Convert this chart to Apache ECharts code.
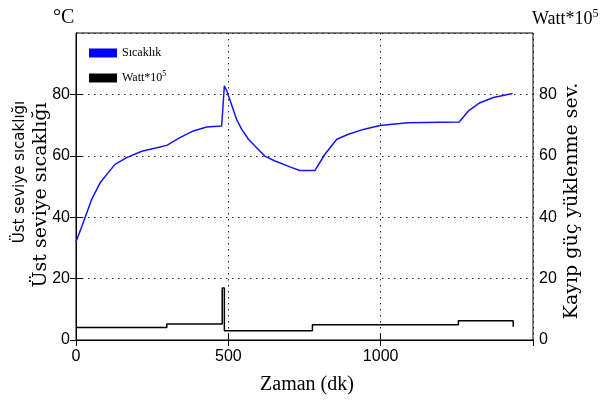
<!DOCTYPE html>
<html>
<head>
<meta charset="utf-8">
<script src="https://cdn.jsdelivr.net/npm/echarts@6/dist/echarts.min.js"></script>
<style>
  html, body { margin: 0; padding: 0; background: #fff; }
  #chart { width: 605px; height: 400px; }
</style>
</head>
<body>
<div id="chart"></div>
<script>
// Sicaklik (°C) okunan noktalar
const tempTime = [0, 19, 51, 79, 128, 166, 216, 265, 298, 341, 385, 429, 478, 481, 487, 495, 527, 544, 566, 604, 620, 653, 702, 735, 784, 817, 856, 894, 943, 998, 1063, 1091, 1258, 1288, 1326, 1370, 1433];
const tempVal  = [32, 37, 45.7, 51.2, 57.2, 59.4, 61.5, 62.6, 63.4, 65.9, 68.1, 69.4, 69.7, 74, 82.8, 81.1, 71.9, 68.6, 65.4, 61.5, 59.9, 58.3, 56.4, 55.2, 55.2, 60.5, 65.4, 67, 68.6, 69.9, 70.5, 70.8, 71.0, 74.6, 77.3, 79, 80.3];

// Watt*10^5 basamaklari
const wattTime = [0, 298, 480, 487, 776, 1255, 1435, 1435];
const wattVal  = [4.1, 5.2, 16.9, 3.0, 5.0, 6.3, 6.3, 4.3];

const xTicks = { min: 0, max: 1500, interval: 500 };
const yTicks = { min: 0, max: 100, interval: 20 };

const labelFont = "'Liberation Sans', sans-serif";
const serifFont = "'Liberation Serif', serif";

let myChart = echarts.init(document.getElementById('chart'));
let dotted = { color: '#222', width: 1, type: [1.5, 4.5] };
let tickLabel = { fontFamily: labelFont, fontSize: 16, color: '#000', formatter: v => String(v) };

let option = {
    animation: false,
    grid: { left: 76, right: 72, top: 33, bottom: 60, show: true, borderColor: '#000', borderWidth: 1, backgroundColor: 'transparent' },
    legend: {
        orient: 'vertical',
        left: 84, top: 42,
        itemWidth: 28, itemHeight: 9, itemGap: 11,
        icon: 'rect',
        textStyle: {
            fontFamily: serifFont, fontSize: 12, color: '#000',
            rich: { sup: { fontFamily: serifFont, fontSize: 8, color: '#000', verticalAlign: 'top', padding: [0, 0, 8, 0] } }
        },
        formatter: function (name) {
            return name === 'Watt' ? 'Watt*10{sup|5}' : name;
        },
        data: ['Sıcaklık', 'Watt']
    },
    xAxis: [{
        type: 'value', position: 'bottom',
        min: xTicks.min, max: xTicks.max, interval: xTicks.interval,
        axisLine: { show: true, lineStyle: { color: '#000', width: 1 } },
        axisTick: { show: true, inside: true, length: 6, lineStyle: { color: '#000' } },
        axisLabel: Object.assign({ margin: 9, showMaxLabel: false }, tickLabel),
        splitLine: { show: true, lineStyle: dotted }
    }, {
        type: 'value', position: 'top',
        min: xTicks.min, max: xTicks.max, interval: xTicks.interval,
        axisLine: { show: false },
        axisTick: { show: true, inside: true, length: 6, lineStyle: { color: '#000' } },
        axisLabel: { show: false },
        splitLine: { show: false }
    }],
    yAxis: [{
        type: 'value', position: 'left',
        min: yTicks.min, max: yTicks.max, interval: yTicks.interval,
        axisLine: { show: true, lineStyle: { color: '#000' } },
        axisTick: { show: true, inside: true, length: 6, lineStyle: { color: '#000' } },
        axisLabel: Object.assign({ margin: 6, showMaxLabel: false }, tickLabel),
        splitLine: { show: true, lineStyle: dotted }
    }, {
        type: 'value', position: 'right',
        min: yTicks.min, max: yTicks.max, interval: yTicks.interval,
        axisLine: { show: true, lineStyle: { color: '#000' } },
        axisTick: { show: true, inside: true, length: 6, lineStyle: { color: '#000' } },
        axisLabel: Object.assign({ margin: 6, showMaxLabel: false }, tickLabel),
        splitLine: { show: false }
    }],
    graphic: [
        { type: 'text', left: 53, top: 8, style: { text: '°C', font: '20px ' + serifFont, fill: '#000' } },
        { type: 'text', left: 532, top: 8, style: { rich: { b: { font: '18px ' + serifFont, fill: '#000' }, s: { font: '12px ' + serifFont, fill: '#000', verticalAlign: 'top', padding: [0,0,10,0] } }, text: '{b|Watt*10}{s|5}' } },
        { type: 'text', x: 20, y: 172, rotation: Math.PI / 2, style: { text: 'Üst seviye sıcaklığı', font: '15px "DejaVu Sans", sans-serif', fill: '#000', align: 'center', verticalAlign: 'middle' } },
        { type: 'text', x: 41, y: 195, rotation: Math.PI / 2, style: { text: 'Üst seviye sıcaklığı', font: '19px "DejaVu Serif", serif', fill: '#000', align: 'center', verticalAlign: 'middle' } },
        { type: 'text', x: 572, y: 201, rotation: Math.PI / 2, style: { text: 'Kayıp güç yüklenme sev.', font: '19px "DejaVu Serif", serif', fill: '#000', align: 'center', verticalAlign: 'middle' } },
        { type: 'text', x: 307, y: 385, style: { text: 'Zaman (dk)', font: '20px ' + serifFont, fill: '#000', align: 'center', verticalAlign: 'middle' } }
    ],
    series: [{
        name: 'Sıcaklık', type: 'line',
        xAxisIndex: 0, yAxisIndex: 0,
        data: tempTime.map((t, i) => [t, tempVal[i]]),
        showSymbol: false, symbol: 'none',
        lineStyle: { color: '#1414ff', width: 1.5 },
        itemStyle: { color: '#0000ff' }
    }, {
        name: 'Watt', type: 'line', step: 'end',
        xAxisIndex: 0, yAxisIndex: 1,
        data: wattTime.map((t, i) => [t, wattVal[i]]),
        showSymbol: false, symbol: 'none',
        lineStyle: { color: '#000', width: 1.5 },
        itemStyle: { color: '#000' }
    }]
};
myChart.setOption(option);
</script>
</body>
</html>
